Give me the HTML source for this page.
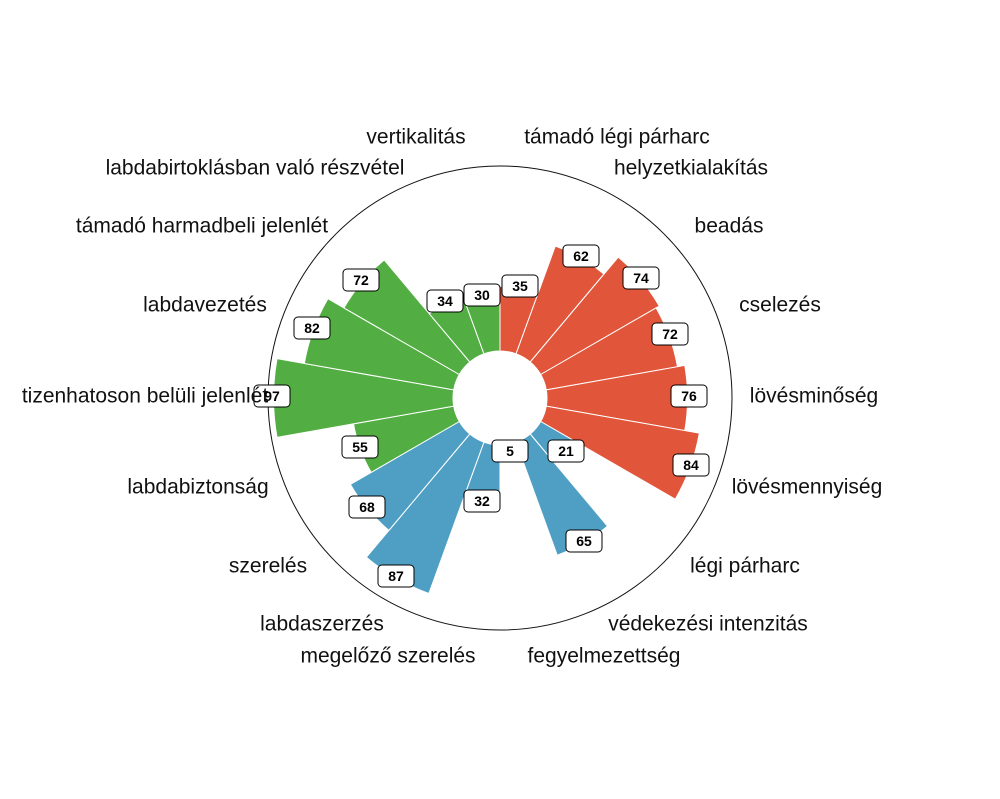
<!DOCTYPE html>
<html><head><meta charset="utf-8">
<style>
html,body{margin:0;padding:0;background:#fff;}
svg{display:block;}
.lbl{font-family:"Liberation Sans",sans-serif;font-size:21px;fill:#111;text-anchor:middle;dominant-baseline:central;}
.val{font-family:"Liberation Sans",sans-serif;font-size:14px;font-weight:bold;fill:#000;text-anchor:middle;dominant-baseline:central;}
.box{fill:#fff;stroke:#000;stroke-width:1;}
</style></head><body>
<svg id="s" width="1000" height="799" viewBox="0 0 1000 799" xmlns="http://www.w3.org/2000/svg">
<g id="bars"></g>
<circle cx="500" cy="398" r="232" fill="none" stroke="#111" stroke-width="1"/>
<circle cx="500" cy="398" r="47" fill="#fff"/>
<g id="boxes"></g>
<text class="lbl" x="416" y="137">vertikalitás</text>
<text class="lbl" x="617" y="137">támadó légi párharc</text>
<text class="lbl" x="255" y="168">labdabirtoklásban való részvétel</text>
<text class="lbl" x="691" y="168">helyzetkialakítás</text>
<text class="lbl" x="202" y="226">támadó harmadbeli jelenlét</text>
<text class="lbl" x="729" y="226">beadás</text>
<text class="lbl" x="205" y="305">labdavezetés</text>
<text class="lbl" x="780" y="305">cselezés</text>
<text class="lbl" x="145" y="396">tizenhatoson belüli jelenlét</text>
<text class="lbl" x="814" y="396">lövésminőség</text>
<text class="lbl" x="198" y="487">labdabiztonság</text>
<text class="lbl" x="807" y="487">lövésmennyiség</text>
<text class="lbl" x="268" y="566">szerelés</text>
<text class="lbl" x="745" y="566">légi párharc</text>
<text class="lbl" x="322" y="624">labdaszerzés</text>
<text class="lbl" x="708" y="624">védekezési intenzitás</text>
<text class="lbl" x="388" y="656">megelőző szerelés</text>
<text class="lbl" x="604" y="656">fegyelmezettség</text>
<g id="vals">
<text class="val" x="520" y="286">35</text>
<text class="val" x="581" y="256">62</text>
<text class="val" x="641" y="278">74</text>
<text class="val" x="670" y="334">72</text>
<text class="val" x="689" y="396">76</text>
<text class="val" x="691" y="465">84</text>
<text class="val" x="566" y="451">21</text>
<text class="val" x="584" y="541">65</text>
<text class="val" x="510" y="451">5</text>
<text class="val" x="482" y="501">32</text>
<text class="val" x="396" y="576">87</text>
<text class="val" x="367" y="507">68</text>
<text class="val" x="360" y="447">55</text>
<text class="val" x="272" y="396">97</text>
<text class="val" x="312" y="328">82</text>
<text class="val" x="361" y="280">72</text>
<text class="val" x="445" y="301">34</text>
<text class="val" x="482" y="295">30</text>
</g>
</svg>
<script>
var vals=[35,62,74,72,76,84,21,65,5,32,87,68,55,97,82,72,34,30];
var cx=500,cy=398,r0=47;
var g=document.getElementById('bars'),ns='http://www.w3.org/2000/svg';
function pt(r,a){a=a*Math.PI/180;return [cx+r*Math.sin(a),cy-r*Math.cos(a)];}
for(var i=0;i<18;i++){
 var col=i<6?'#e1553a':(i<12?'#4f9fc4':'#52ae42');
 var r=r0+1.85*vals[i],a0=20*i,a1=a0+20;
 var p1=pt(r0,a0),p2=pt(r,a0),p3=pt(r,a1),p4=pt(r0,a1);
 var p=document.createElementNS(ns,'path');
 p.setAttribute('d','M'+p1+' L'+p2+' A'+r+' '+r+' 0 0 1 '+p3+' L'+p4+' A'+r0+' '+r0+' 0 0 0 '+p1+'Z');
 p.setAttribute('fill',col);p.setAttribute('stroke','#fff');p.setAttribute('stroke-width','1');
 g.appendChild(p);
}
var bx=document.getElementById('boxes');
var ts=document.querySelectorAll('#vals text');
ts.forEach(function(t){
 var x=+t.getAttribute('x'),y=+t.getAttribute('y');
 var rc=document.createElementNS(ns,'rect');
 rc.setAttribute('x',x-18);rc.setAttribute('y',y-11);rc.setAttribute('width',36);rc.setAttribute('height',22);
 rc.setAttribute('rx',4);rc.setAttribute('class','box');
 bx.appendChild(rc);
});
</script>
</body></html>
